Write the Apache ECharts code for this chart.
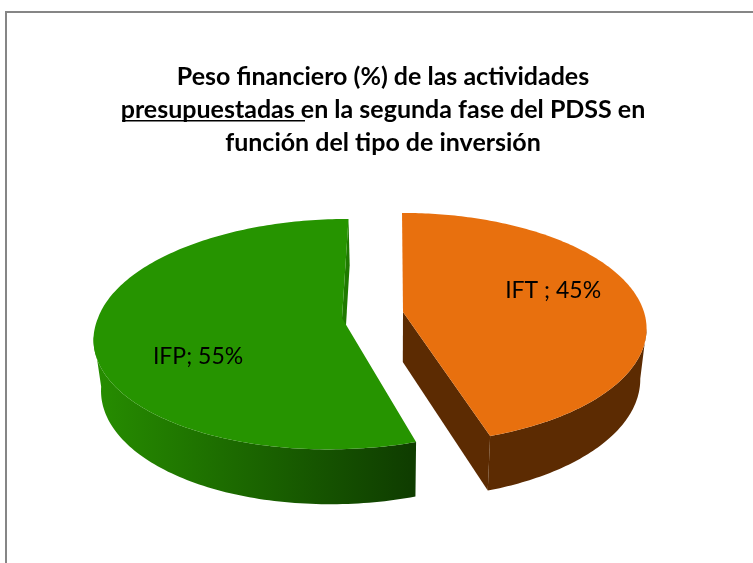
<!DOCTYPE html>
<html>
<head>
<meta charset="utf-8">
<style>html,body{margin:0;padding:0;background:#fff}#c{width:753px;height:563px}</style>
<script src="https://cdn.jsdelivr.net/npm/echarts@6/dist/echarts.min.js"></script>
</head>
<body>
<div id="c"></div>
<script>
const categories = ['IFT', 'IFP'];
const separators = [' ; ', '; '];
const values = [45, 55];
const titleLines = [
  'Peso financiero (%) de las actividades',
  'presupuestadas en la segunda fase del PDSS en',
  'función del tipo de inversión'
];

// Scene layout for the hand-built perspective pie
const VX = 395, RXS = [241, 244], RY = 113, K = 0.14, DEPTH = 50, BOTTOM_SCALE = 0.975;
const APEX = [[403, 312], [342, 318]];
const SHEAR = [0, -5];
const LABEL_R = [0.64, 0.585], LABEL_DY = [-10, 28];
const STYLE = [
  { top: '#E8700E', wall: '#5C2B02', outer: ['#5C2B02', '#5C2B02'], range: [403, 647] },
  { top: '#269400', wall: '#1F7A00', outer: ['#268C00', '#0F3D00'], range: [100, 410] }
];

function project(slice, X, Y, low) {
  const w = 1 - K * Y;
  const s = low ? BOTTOM_SCALE : 1;
  const ax = APEX[slice][0] - VX, ay = APEX[slice][1];
  return [
    VX + s * (ax + RXS[slice] * X) / w + SHEAR[slice] * Math.max(Y, 0),
    ay + (RY * Y) / w * s + (low ? DEPTH / w : 0)
  ];
}
function onRim(slice, theta, low) {
  return project(slice, Math.sin(theta), -Math.cos(theta), low);
}

const total = values.reduce((a, b) => a + b, 0);

function renderItem(params, api) {
  const i = params.dataIndex;
  let start = 0;
  for (let j = 0; j < i; j++) start += values[j];
  const a0 = start / total * 2 * Math.PI;
  const a1 = (start + values[i]) / total * 2 * Math.PI;
  const N = 180, top = [], frontTop = [], frontLow = [];
  for (let n = 0; n <= N; n++) {
    const t = a0 + (a1 - a0) * n / N;
    top.push(onRim(i, t, false));
    if (-Math.cos(t) > K) {
      frontTop.push(onRim(i, t, false));
      frontLow.push(onRim(i, t, true));
    }
  }
  const A = project(i, 0, 0, false), Ab = project(i, 0, 0, true);
  const st = STYLE[i];
  const grad = new echarts.graphic.LinearGradient(
    st.range[0], 0, st.range[1], 0,
    [{ offset: 0, color: st.outer[0] }, { offset: 1, color: st.outer[1] }],
    true
  );
  const poly = (pts, fill, z2) => ({
    type: 'polygon', z2,
    shape: { points: pts },
    style: { fill }
  });
  const mid = (a0 + a1) / 2;
  const lp = project(i, LABEL_R[i] * Math.sin(mid), -LABEL_R[i] * Math.cos(mid), false);
  const endLow = onRim(i, a1, true);
  return {
    type: 'group',
    children: [
      poly([A, top[N], endLow, Ab], st.wall, 1),
      poly(frontTop.concat(frontLow.slice().reverse()), grad, 2),
      poly([A].concat(top), st.top, 3),
      {
        type: 'text', z2: 4,
        style: {
          x: lp[0], y: lp[1] + LABEL_DY[i],
          text: categories[i] + separators[i] + values[i] + '%',
          fill: '#000', align: 'center', verticalAlign: 'middle',
          font: '23px Lato'
        }
      }
    ]
  };
}

const chart = echarts.init(document.getElementById('c'), null, { renderer: 'canvas' });
chart.setOption({
  animation: false,
  backgroundColor: '#fff',
  title: {
    text: titleLines.join('\n'),
    left: 378, top: 55, textAlign: 'center',
    textStyle: {
      fontFamily: 'Lato', fontWeight: 'bold', fontSize: 25,
      lineHeight: 33, color: '#000'
    }
  },
  graphic: [
    { type: 'rect', silent: true, z: -1, shape: { x: 6, y: 12, width: 800, height: 600 },
      style: { fill: 'none', stroke: '#868686', lineWidth: 2 } },
    { type: 'rect', silent: true, shape: { x: 122, y: 120, width: 183, height: 1.5 },
      style: { fill: '#000' } }
  ],
  xAxis: { show: false, type: 'value', min: 0, max: 1 },
  yAxis: { show: false, type: 'value', min: 0, max: 1 },
  grid: { left: 0, right: 0, top: 0, bottom: 0 },
  series: [{
    type: 'custom',
    coordinateSystem: 'none',
    clip: false,
    renderItem,
    data: categories.map((name, i) => ({ name, value: values[i] }))
  }]
});
</script>
</body>
</html>
